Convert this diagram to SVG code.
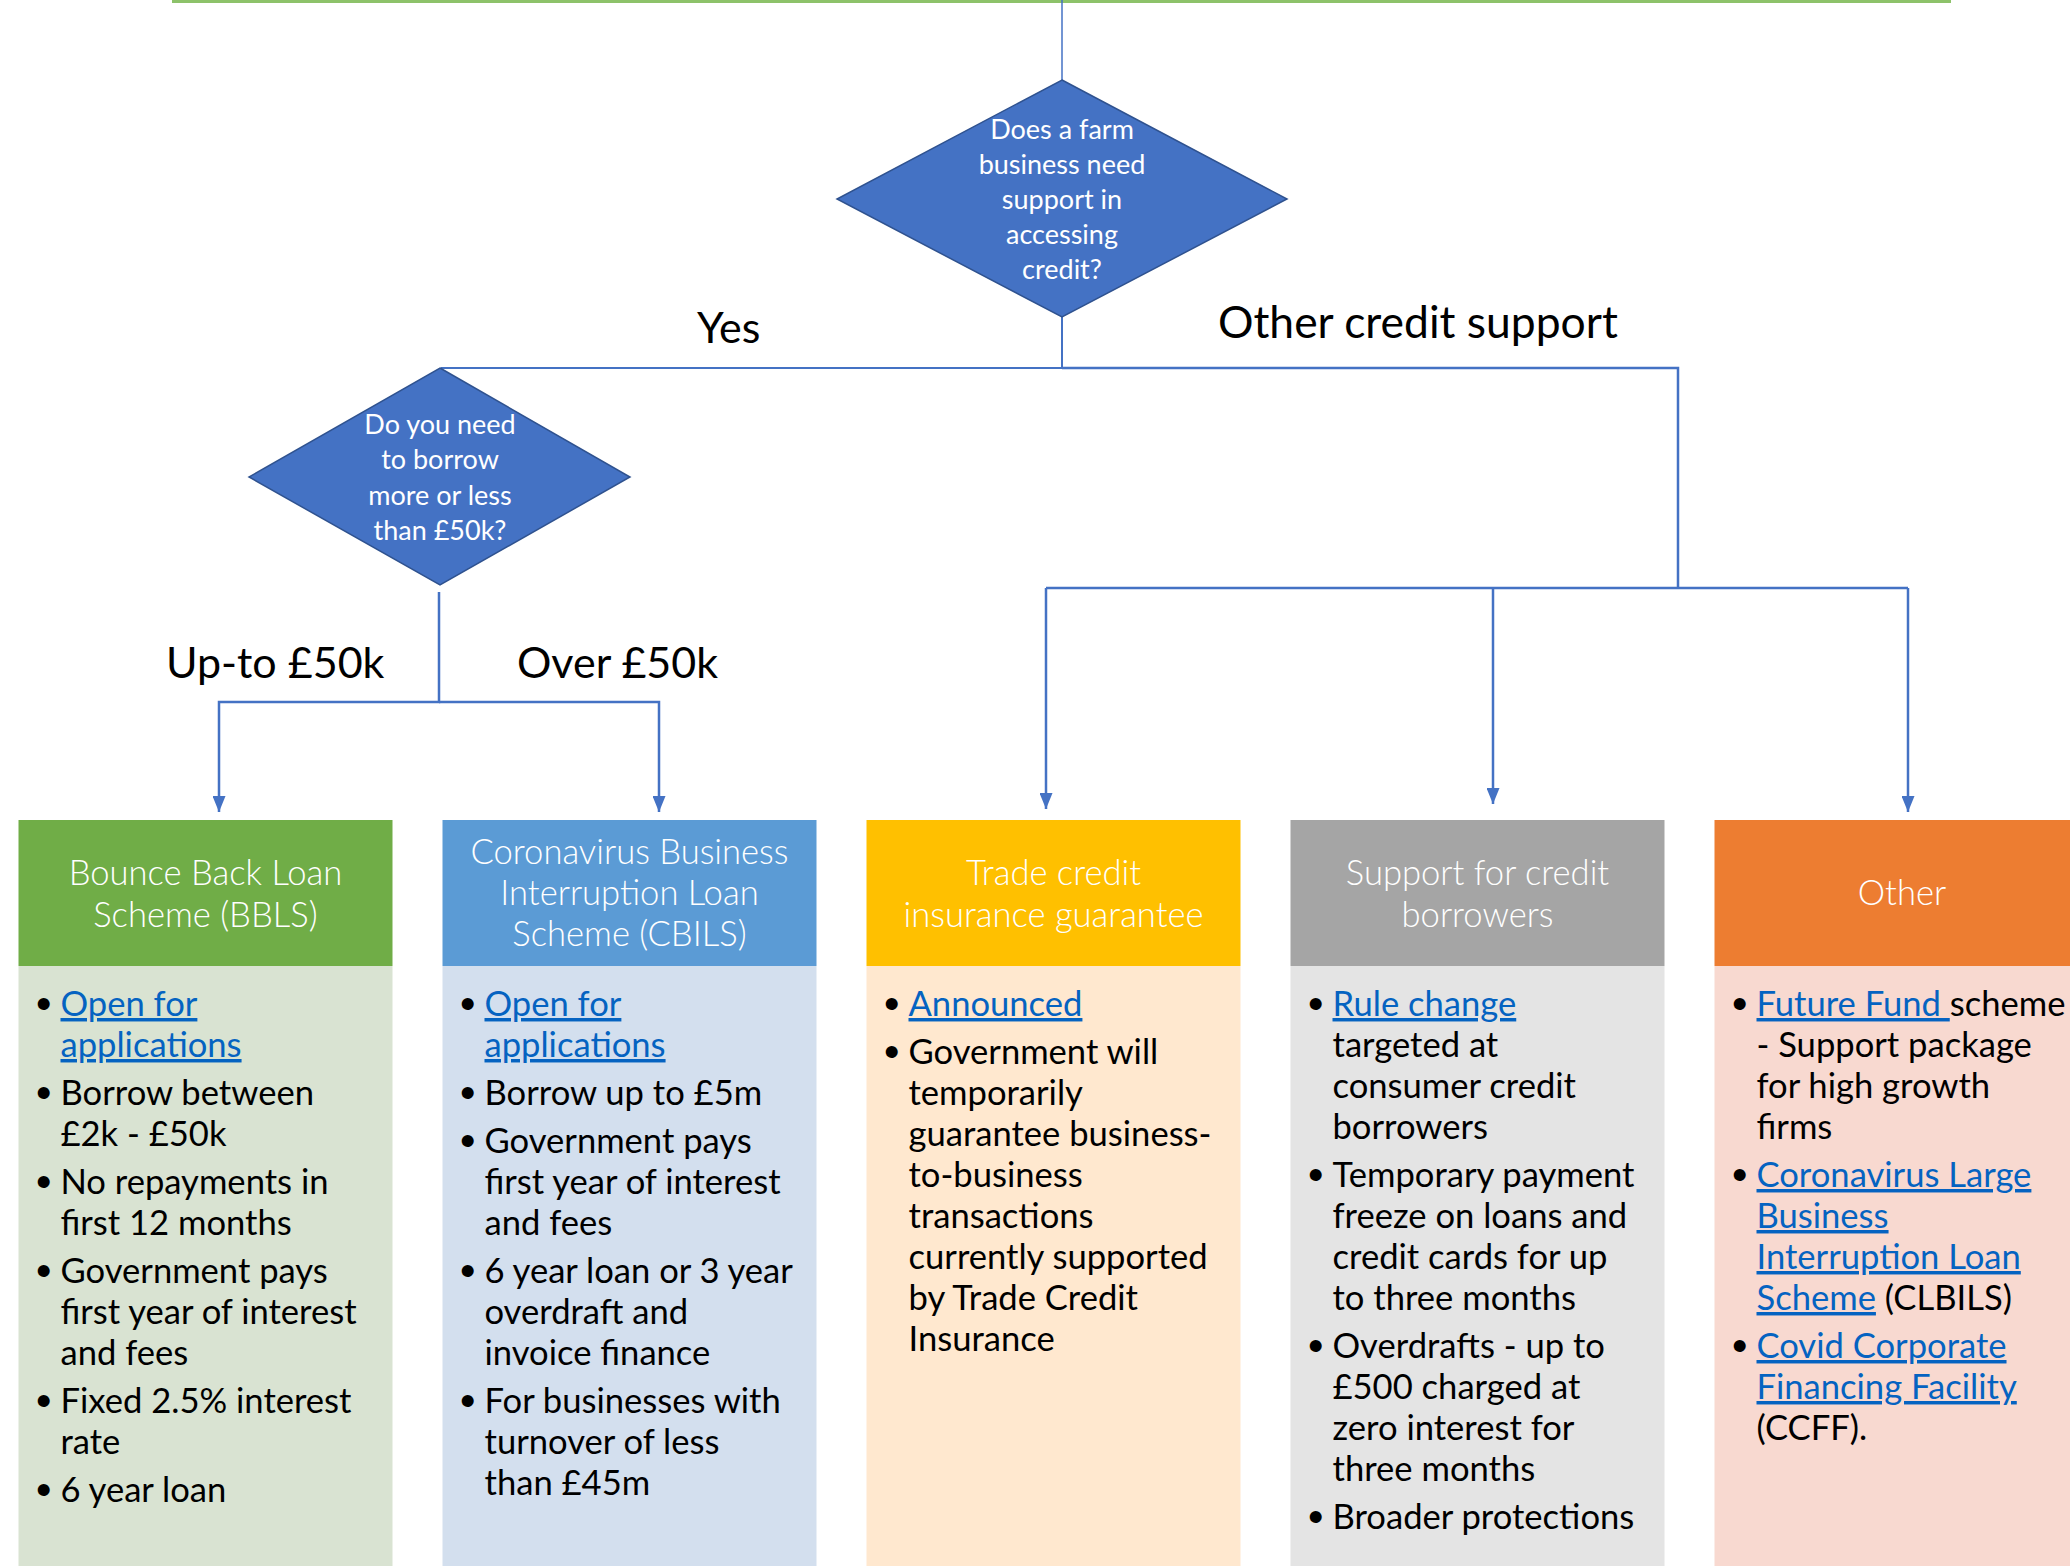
<svg xmlns="http://www.w3.org/2000/svg" width="2070" height="1566" viewBox="0 0 2070 1566">
<style>
.hd{font-family:Lato,"Liberation Sans",sans-serif;font-weight:300;font-size:34.6px;fill:#fff;text-anchor:middle}
.bd{font-family:Lato,"Liberation Sans",sans-serif;font-size:34.6px;fill:#000}
.lk{fill:#0563C1;text-decoration:underline}
.bu{font-family:"Liberation Sans",sans-serif;font-size:44px;fill:#000}
.dm{font-family:Lato,"Liberation Sans",sans-serif;font-size:27px;fill:#fff;text-anchor:middle}
.lb{font-family:Lato,"Liberation Sans",sans-serif;font-size:43px;fill:#000}
.cn{fill:none;stroke:#4472C4;stroke-width:2.5}
.dia{fill:#4472C4;stroke:#2F528F;stroke-width:1.5}
</style>
<defs>
<marker id="ah" markerWidth="16" markerHeight="13" refX="16" refY="6.5" orient="auto" markerUnits="userSpaceOnUse" viewBox="0 0 16 13"><path d="M0,0 L16,6.5 L0,13 z" fill="#4472C4"/></marker>
</defs>
<rect width="2070" height="1566" fill="#fff"/>
<line x1="172" y1="1.5" x2="1951" y2="1.5" stroke="#8DC26A" stroke-width="3"/>

<g id="connectors">
<line class="cn" x1="1062" y1="0" x2="1062" y2="80" style="stroke-width:1.5"/>
<polyline class="cn" points="1062,317 1062,368 441,368" style="stroke-width:2"/>
<polyline class="cn" points="1062,368 1678,368 1678,588"/>
<line class="cn" x1="1046" y1="588" x2="1908" y2="588"/>
<line class="cn" x1="1046" y1="588" x2="1046" y2="809" marker-end="url(#ah)"/>
<line class="cn" x1="1493" y1="588" x2="1493" y2="804" marker-end="url(#ah)"/>
<line class="cn" x1="1908" y1="588" x2="1908" y2="812" marker-end="url(#ah)"/>
<polyline class="cn" points="439,592 439,702 219,702 219,812" marker-end="url(#ah)"/>
<polyline class="cn" points="439,702 659,702 659,812" marker-end="url(#ah)"/>
</g>

<g id="labels">
<text class="lb" x="697" y="343">Yes</text>
<text class="lb" x="1218" y="338" style="font-size:44.4px">Other credit support</text>
<text class="lb" x="166" y="678">Up-to £50k</text>
<text class="lb" x="517" y="678">Over £50k</text>
</g>

<g id="decision1">
<polygon class="dia" points="1062,80 1287,199 1062,317 837,199"/>
<text class="dm" x="1062" y="139">Does a farm</text>
<text class="dm" x="1062" y="174">business need</text>
<text class="dm" x="1062" y="209">support in</text>
<text class="dm" x="1062" y="244">accessing</text>
<text class="dm" x="1062" y="279">credit?</text>
</g>

<g id="decision2">
<polygon class="dia" points="440,368 630,477 440,585 249,477"/>
<text class="dm" x="440" y="434">Do you need</text>
<text class="dm" x="440" y="469">to borrow</text>
<text class="dm" x="440" y="505">more or less</text>
<text class="dm" x="440" y="540">than £50k?</text>
</g>

<g id="bbls">
<rect x="18.5" y="820" width="374" height="146" fill="#70AD47"/>
<rect x="18.5" y="966" width="374" height="600" fill="#D9E3D2"/>
<text class="hd" x="205.5" y="885">Bounce Back Loan</text>
<text class="hd" x="205.5" y="927">Scheme (BBLS)</text>
<text class="bu" x="36" y="1019">•</text><text class="bd lk" x="60.5" y="1016">Open for</text>
<text class="bd lk" x="60.5" y="1057">applications</text>
<text class="bu" x="36" y="1108">•</text><text class="bd" x="60.5" y="1105">Borrow between</text>
<text class="bd" x="60.5" y="1146">£2k - £50k</text>
<text class="bu" x="36" y="1197">•</text><text class="bd" x="60.5" y="1194">No repayments in</text>
<text class="bd" x="60.5" y="1235">first 12 months</text>
<text class="bu" x="36" y="1286">•</text><text class="bd" x="60.5" y="1283">Government pays</text>
<text class="bd" x="60.5" y="1324">first year of interest</text>
<text class="bd" x="60.5" y="1365">and fees</text>
<text class="bu" x="36" y="1416">•</text><text class="bd" x="60.5" y="1413">Fixed 2.5% interest</text>
<text class="bd" x="60.5" y="1454">rate</text>
<text class="bu" x="36" y="1505">•</text><text class="bd" x="60.5" y="1502">6 year loan</text>
</g>

<g id="cbils">
<rect x="442.5" y="820" width="374" height="146" fill="#5B9BD5"/>
<rect x="442.5" y="966" width="374" height="600" fill="#D3DFEE"/>
<text class="hd" x="629.5" y="864">Coronavirus Business</text>
<text class="hd" x="629.5" y="905">Interruption Loan</text>
<text class="hd" x="629.5" y="946">Scheme (CBILS)</text>
<text class="bu" x="460" y="1019">•</text><text class="bd lk" x="484.5" y="1016">Open for</text>
<text class="bd lk" x="484.5" y="1057">applications</text>
<text class="bu" x="460" y="1108">•</text><text class="bd" x="484.5" y="1105">Borrow up to £5m</text>
<text class="bu" x="460" y="1156">•</text><text class="bd" x="484.5" y="1153">Government pays</text>
<text class="bd" x="484.5" y="1194">first year of interest</text>
<text class="bd" x="484.5" y="1235">and fees</text>
<text class="bu" x="460" y="1286">•</text><text class="bd" x="484.5" y="1283">6 year loan or 3 year</text>
<text class="bd" x="484.5" y="1324">overdraft and</text>
<text class="bd" x="484.5" y="1365">invoice finance</text>
<text class="bu" x="460" y="1416">•</text><text class="bd" x="484.5" y="1413">For businesses with</text>
<text class="bd" x="484.5" y="1454">turnover of less</text>
<text class="bd" x="484.5" y="1495">than £45m</text>
</g>

<g id="trade-credit">
<rect x="866.5" y="820" width="374" height="146" fill="#FFC000"/>
<rect x="866.5" y="966" width="374" height="600" fill="#FFE8CF"/>
<text class="hd" x="1053.5" y="885">Trade credit</text>
<text class="hd" x="1053.5" y="927">insurance guarantee</text>
<text class="bu" x="884" y="1019">•</text><text class="bd lk" x="908.5" y="1016">Announced</text>
<text class="bu" x="884" y="1067">•</text><text class="bd" x="908.5" y="1064">Government will</text>
<text class="bd" x="908.5" y="1105">temporarily</text>
<text class="bd" x="908.5" y="1146">guarantee business-</text>
<text class="bd" x="908.5" y="1187">to-business</text>
<text class="bd" x="908.5" y="1228">transactions</text>
<text class="bd" x="908.5" y="1269">currently supported</text>
<text class="bd" x="908.5" y="1310">by Trade Credit</text>
<text class="bd" x="908.5" y="1351">Insurance</text>
</g>

<g id="credit-borrowers">
<rect x="1290.5" y="820" width="374" height="146" fill="#A5A5A5"/>
<rect x="1290.5" y="966" width="374" height="600" fill="#E4E4E4"/>
<text class="hd" x="1477.5" y="885">Support for credit</text>
<text class="hd" x="1477.5" y="927">borrowers</text>
<text class="bu" x="1308" y="1019">•</text><text class="bd lk" x="1332.5" y="1016">Rule change</text>
<text class="bd" x="1332.5" y="1057">targeted at</text>
<text class="bd" x="1332.5" y="1098">consumer credit</text>
<text class="bd" x="1332.5" y="1139">borrowers</text>
<text class="bu" x="1308" y="1190">•</text><text class="bd" x="1332.5" y="1187">Temporary payment</text>
<text class="bd" x="1332.5" y="1228">freeze on loans and</text>
<text class="bd" x="1332.5" y="1269">credit cards for up</text>
<text class="bd" x="1332.5" y="1310">to three months</text>
<text class="bu" x="1308" y="1361">•</text><text class="bd" x="1332.5" y="1358">Overdrafts - up to</text>
<text class="bd" x="1332.5" y="1399">£500 charged at</text>
<text class="bd" x="1332.5" y="1440">zero interest for</text>
<text class="bd" x="1332.5" y="1481">three months</text>
<text class="bu" x="1308" y="1532">•</text><text class="bd" x="1332.5" y="1529">Broader protections</text>
</g>

<g id="other">
<rect x="1714.5" y="820" width="374" height="146" fill="#ED7D31"/>
<rect x="1714.5" y="966" width="374" height="600" fill="#F8D9D0"/>
<text class="hd" x="1902" y="905">Other</text>
<text class="bu" x="1732" y="1019">•</text><text class="bd" x="1756.5" y="1016"><tspan class="lk">Future Fund </tspan>scheme</text>
<text class="bd" x="1756.5" y="1057">- Support package</text>
<text class="bd" x="1756.5" y="1098">for high growth</text>
<text class="bd" x="1756.5" y="1139">firms</text>
<text class="bu" x="1732" y="1190">•</text><text class="bd lk" x="1756.5" y="1187">Coronavirus Large</text>
<text class="bd lk" x="1756.5" y="1228">Business</text>
<text class="bd lk" x="1756.5" y="1269">Interruption Loan</text>
<text class="bd" x="1756.5" y="1310"><tspan class="lk">Scheme</tspan> (CLBILS)</text>
<text class="bu" x="1732" y="1361">•</text><text class="bd lk" x="1756.5" y="1358">Covid Corporate</text>
<text class="bd lk" x="1756.5" y="1399">Financing Facility</text>
<text class="bd" x="1756.5" y="1440">(CCFF).</text>
</g>
</svg>
